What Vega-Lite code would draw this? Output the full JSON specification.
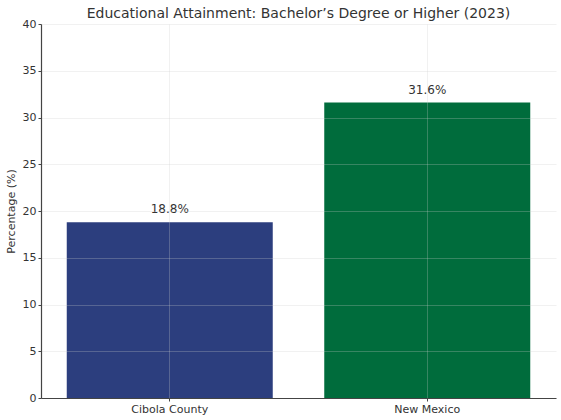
{
  "$schema": "https://vega.github.io/schema/vega-lite/v6.json",
  "width": 515,
  "height": 374,
  "autosize": {"type": "none"},
  "padding": {"left": 41, "top": 24, "right": 5, "bottom": 22},
  "background": "white",
  "title": {
    "text": "Educational Attainment: Bachelor’s Degree or Higher (2023)",
    "fontSize": 14,
    "fontWeight": "normal",
    "font": "DejaVu Sans",
    "color": "#333333",
    "offset": -3
  },
  "data": {
    "values": [
      {"region": "Cibola County", "pct": 18.8, "label": "18.8%"},
      {"region": "New Mexico", "pct": 31.6, "label": "31.6%"}
    ]
  },
  "encoding": {
    "x": {
      "field": "region",
      "type": "nominal",
      "sort": null,
      "scale": {"paddingInner": 0.2, "paddingOuter": 0.1},
      "axis": {
        "title": null,
        "labelAngle": 0,
        "grid": true,
        "zindex": 1,
        "tickSize": 3,
        "labelPadding": 2
      }
    },
    "y": {
      "field": "pct",
      "type": "quantitative",
      "scale": {"domain": [0, 40], "nice": false},
      "axis": {
        "title": "Percentage (%)",
        "values": [0, 5, 10, 15, 20, 25, 30, 35, 40],
        "grid": true,
        "zindex": 1,
        "tickSize": 3,
        "titlePadding": 6
      }
    }
  },
  "layer": [
    {
      "mark": {"type": "bar"},
      "encoding": {
        "color": {
          "field": "region",
          "type": "nominal",
          "scale": {"domain": ["Cibola County", "New Mexico"], "range": ["#2c3e7e", "#006c3c"]},
          "legend": null
        }
      }
    },
    {
      "mark": {"type": "text", "baseline": "bottom", "dy": -6, "fontSize": 12, "font": "DejaVu Sans", "color": "#333333"},
      "encoding": {"text": {"field": "label"}}
    }
  ],
  "config": {
    "view": {"stroke": null},
    "axis": {
      "labelFont": "DejaVu Sans",
      "titleFont": "DejaVu Sans",
      "labelFontSize": 11,
      "titleFontSize": 11,
      "titleFontWeight": "normal",
      "labelColor": "#333333",
      "titleColor": "#333333",
      "domainColor": "#444444",
      "domainWidth": 1.2,
      "tickColor": "#444444",
      "gridColor": "#cccccc",
      "gridOpacity": 0.35,
      "gridWidth": 0.8
    }
  }
}
